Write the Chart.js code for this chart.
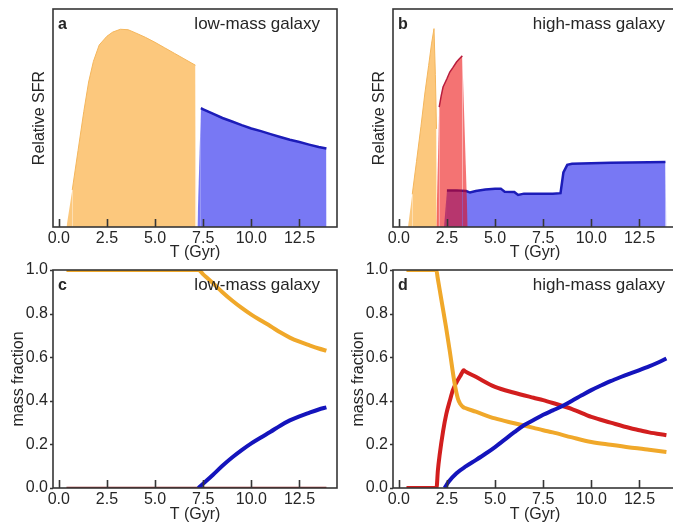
<!DOCTYPE html>
<html lang="en">
<head>
<meta charset="UTF-8">
<title>Star formation history and stellar mass fractions</title>
<script src="https://cdn.jsdelivr.net/npm/chart.js"></script>
<style>
  html, body { margin: 0; padding: 0; background: #fff; overflow: hidden; width: 673px; height: 526px; }
  canvas { position: absolute; }
</style>
</head>
<body>
<canvas id="panelA" width="340" height="262" style="left:0;top:0"></canvas>
<canvas id="panelB" width="345" height="262" style="left:340px;top:0"></canvas>
<canvas id="panelC" width="340" height="276" style="left:0;top:250px"></canvas>
<canvas id="panelD" width="345" height="276" style="left:340px;top:250px"></canvas>

<script>
// axis setup shared by all four panels
const X_MIN = -0.3, X_MAX = 14.45;
const timeTicks = [0, 2.5, 5, 7.5, 10, 12.5];
const fracTicks = [0, 0.2, 0.4, 0.6, 0.8, 1.0];

// (a) low-mass galaxy, relative SFR
const lowSfrOldT   = [0.4, 0.7, 1.0, 1.3, 1.55, 1.8, 2.1, 2.5, 2.8, 3.2, 3.6, 4.0, 4.5, 5.0, 5.5, 6.0, 6.5, 6.9, 7.1, 7.15];
const lowSfrOld    = [0, 0.17, 0.35, 0.53, 0.665, 0.76, 0.835, 0.875, 0.894, 0.907, 0.905, 0.89, 0.87, 0.847, 0.822, 0.797, 0.772, 0.752, 0.742, 0];
const lowSfrYoungT = [7.2, 7.38, 7.5, 8.0, 8.5, 9.0, 9.5, 10.0, 10.5, 11.0, 11.5, 12.0, 12.5, 13.0, 13.5, 13.9, 13.92];
const lowSfrYoung  = [0, 0.545, 0.54, 0.52, 0.5, 0.484, 0.467, 0.452, 0.44, 0.426, 0.413, 0.4, 0.39, 0.378, 0.367, 0.36, 0];

// (b) high-mass galaxy, relative SFR
const highSfrOldT   = [0.48, 0.7, 0.92, 1.15, 1.35, 1.55, 1.7, 1.83, 1.9, 1.96, 2.02];
const highSfrOld    = [0, 0.15, 0.3, 0.46, 0.61, 0.74, 0.84, 0.91, 0.7, 0.45, 0];
const highSfrMidT   = [1.95, 2.1, 2.2, 2.3, 2.5, 2.65, 2.8, 3.0, 3.15, 3.3, 3.58];
const highSfrMid    = [0, 0.55, 0.6, 0.642, 0.68, 0.711, 0.73, 0.757, 0.772, 0.785, 0];
const highSfrYoungT = [2.35, 2.5, 3.0, 3.5, 3.7, 4.0, 4.5, 5.0, 5.3, 5.5, 6.0, 6.2, 6.5, 7.0, 7.5, 8.0, 8.4, 8.55, 8.75, 9.0, 10.0, 11.0, 12.0, 13.0, 13.85, 13.9];
const highSfrYoung  = [0, 0.168, 0.168, 0.165, 0.158, 0.165, 0.172, 0.176, 0.176, 0.162, 0.161, 0.147, 0.153, 0.153, 0.153, 0.152, 0.155, 0.25, 0.285, 0.29, 0.292, 0.295, 0.296, 0.297, 0.298, 0];

// (c) low-mass galaxy, mass fractions
const lowOldT   = [0.4, 7.25, 7.5, 8.0, 8.5, 9.0, 9.5, 10.0, 10.5, 11.0, 11.5, 12.0, 12.5, 13.0, 13.5, 13.9];
const lowOld    = [1, 1, 0.98, 0.94, 0.898, 0.86, 0.826, 0.795, 0.768, 0.742, 0.714, 0.69, 0.671, 0.655, 0.64, 0.63];
const lowYoungT = [7.25, 7.5, 8.0, 8.5, 9.0, 9.5, 10.0, 10.5, 11.0, 11.5, 12.0, 12.5, 13.0, 13.5, 13.9];
const lowYoung  = [0, 0.02, 0.06, 0.102, 0.14, 0.174, 0.205, 0.232, 0.258, 0.286, 0.31, 0.329, 0.345, 0.36, 0.37];
const lowMidT   = [0.4, 13.9];
const lowMid    = [0, 0];

// (d) high-mass galaxy, mass fractions
const highOldT   = [0.4, 1.95, 2.02, 2.2, 2.45, 2.64, 2.9, 3.07, 3.2, 3.33, 3.45, 4.0, 5.0, 6.0, 7.0, 7.5, 8.0, 9.0, 10.0, 11.0, 12.0, 12.5, 13.0, 13.9];
const highOld    = [1, 1, 0.964, 0.87, 0.74, 0.633, 0.48, 0.41, 0.385, 0.372, 0.367, 0.35, 0.319, 0.297, 0.276, 0.265, 0.255, 0.232, 0.211, 0.198, 0.186, 0.181, 0.175, 0.165];
const highMidT   = [0.4, 1.96, 2.03, 2.12, 2.3, 2.47, 2.65, 2.81, 3.0, 3.2, 3.3, 3.37, 3.45, 4.0, 5.0, 6.0, 7.0, 7.5, 8.0, 9.0, 10.0, 11.0, 12.0, 12.5, 13.0, 13.9];
const highMid    = [0, 0, 0.08, 0.15, 0.26, 0.34, 0.4, 0.449, 0.485, 0.515, 0.531, 0.54, 0.535, 0.51, 0.464, 0.437, 0.414, 0.403, 0.39, 0.362, 0.326, 0.3, 0.275, 0.265, 0.255, 0.242];
const highYoungT = [2.38, 2.6, 3.0, 3.5, 4.0, 4.5, 5.0, 5.5, 6.0, 6.5, 7.0, 7.5, 8.0, 8.5, 9.0, 9.5, 10.0, 10.5, 11.0, 11.5, 12.0, 12.5, 13.0, 13.5, 13.9];
const highYoung  = [0, 0.03, 0.068, 0.1, 0.128, 0.157, 0.188, 0.222, 0.256, 0.288, 0.312, 0.336, 0.356, 0.376, 0.4, 0.425, 0.449, 0.47, 0.49, 0.508, 0.525, 0.541, 0.558, 0.577, 0.594];

const FONT = '"Liberation Sans", Arial, sans-serif';
const INK = '#262626';

Chart.defaults.font.family = FONT;
Chart.defaults.font.size = 16;
Chart.defaults.color = INK;

function pts(t, v) {
    return t.map((x, i) => ({ x: x, y: v[i] }));
}

// filled SFR block; the outline is only drawn along the top, not the vertical edges
function area(t, v, fill, edge, edgeWidth) {
    return {
        data: pts(t, v),
        fill: 'origin',
        backgroundColor: fill,
        borderColor: edge,
        borderWidth: edgeWidth,
        pointRadius: 0,
        segment: {
            borderColor: ctx => (ctx.p0.parsed.y === 0 || ctx.p1.parsed.y === 0) ? 'transparent' : undefined
        }
    };
}

function curve(t, v, color, width) {
    return {
        data: pts(t, v),
        borderColor: color,
        borderWidth: width,
        pointRadius: 0,
        fill: false,
        cubicInterpolationMode: 'monotone',
        borderJoinStyle: 'round'
    };
}

// box frame, inward x ticks, panel letter and galaxy label
const framePlugin = {
    id: 'frame',
    afterDatasetsDraw(chart, args, opts) {
        const { ctx, chartArea: a, scales: { x, y } } = chart;
        ctx.save();
        ctx.strokeStyle = '#363636';
        ctx.lineWidth = 1.6;
        ctx.strokeRect(a.left, a.top, a.right - a.left, a.bottom - a.top);

        ctx.beginPath();
        x.ticks.forEach(t => {
            const px = Math.round(x.getPixelForValue(t.value)) + 0.5;
            ctx.moveTo(px, a.bottom);
            ctx.lineTo(px, a.bottom - 8);
        });
        if (opts.yTicks) {
            y.ticks.forEach(t => {
                const py = Math.round(y.getPixelForValue(t.value)) + 0.5;
                ctx.moveTo(a.left, py);
                ctx.lineTo(a.left - 3, py);
            });
        }
        ctx.stroke();

        ctx.fillStyle = INK;
        ctx.textBaseline = 'alphabetic';
        ctx.font = 'bold 16px ' + FONT;
        ctx.textAlign = 'left';
        ctx.fillText(opts.letter, a.left + 5, a.top + 20);
        ctx.font = '17px ' + FONT;
        ctx.textAlign = 'right';
        ctx.fillText(opts.label, a.right - opts.labelInset, a.top + 20);
        ctx.restore();
    }
};

function buildPanel(id, datasets, p) {
    return new Chart(document.getElementById(id), {
        type: 'line',
        data: { datasets: datasets },
        plugins: [framePlugin],
        options: {
            responsive: false,
            animation: false,
            events: [],
            layout: { padding: { top: p.padTop, right: p.padRight, left: 0, bottom: 0 } },
            plugins: {
                legend: { display: false },
                tooltip: { enabled: false },
                frame: { letter: p.letter, label: p.label, labelInset: p.labelInset, yTicks: p.fraction }
            },
            scales: {
                x: {
                    type: 'linear',
                    min: X_MIN,
                    max: X_MAX,
                    grid: { display: false, drawTicks: false },
                    border: { display: false },
                    afterBuildTicks: s => { s.ticks = timeTicks.map(v => ({ value: v })); },
                    afterFit: s => { s.height = p.xHeight; },
                    ticks: { padding: 2, maxRotation: 0, autoSkip: false, callback: v => v.toFixed(1) },
                    title: { display: true, text: 'T (Gyr)', padding: { top: 0, bottom: p.xTitlePad } }
                },
                y: {
                    type: 'linear',
                    min: 0,
                    max: 1,
                    grid: { display: false, drawTicks: false },
                    border: { display: false },
                    afterBuildTicks: s => { if (p.fraction) s.ticks = fracTicks.map(v => ({ value: v })); },
                    afterFit: s => { s.width = 53; },
                    ticks: { display: p.fraction, padding: 5, autoSkip: false, callback: v => v.toFixed(1) },
                    title: { display: true, text: p.yTitle, padding: { top: p.yTitlePad, bottom: 0 } }
                }
            }
        }
    });
}

const ORANGE_FILL = '#fcc87d';
const ORANGE_EDGE = '#f4b65c';
const BLUE_FILL = 'rgba(0, 0, 235, 0.53)';
const BLUE_EDGE = '#1c1cb8';
const RED_FILL = 'rgba(235, 0, 0, 0.55)';
const RED_EDGE = '#b81c3c';

const ORANGE_LINE = '#f0a82a';
const BLUE_LINE = '#1414bc';
const RED_LINE = '#d21e1e';

buildPanel('panelA', [
    area(lowSfrYoungT, lowSfrYoung, BLUE_FILL, BLUE_EDGE, 2.5),
    area(lowSfrOldT, lowSfrOld, ORANGE_FILL, ORANGE_EDGE, 1)
], { letter: 'a', label: 'low-mass galaxy', labelInset: 17, yTitle: 'Relative SFR', fraction: false,
     padTop: 9, padRight: 3, xHeight: 35, xTitlePad: 0, yTitlePad: 30 });

buildPanel('panelB', [
    area(highSfrMidT, highSfrMid, RED_FILL, RED_EDGE, 1.5),
    area(highSfrYoungT, highSfrYoung, BLUE_FILL, BLUE_EDGE, 2.5),
    area(highSfrOldT, highSfrOld, ORANGE_FILL, ORANGE_EDGE, 1)
], { letter: 'b', label: 'high-mass galaxy', labelInset: 12, yTitle: 'Relative SFR', fraction: false,
     padTop: 9, padRight: 8, xHeight: 35, xTitlePad: 0, yTitlePad: 30 });

buildPanel('panelC', [
    curve(lowOldT, lowOld, ORANGE_LINE, 4),
    curve(lowYoungT, lowYoung, BLUE_LINE, 4),
    curve(lowMidT, lowMid, '#962020', 2.5)
], { letter: 'c', label: 'low-mass galaxy', labelInset: 17, yTitle: 'mass fraction', fraction: true,
     padTop: 20, padRight: 3, xHeight: 38, xTitlePad: 2, yTitlePad: 9 });

buildPanel('panelD', [
    curve(highYoungT, highYoung, BLUE_LINE, 4),
    curve(highOldT, highOld, ORANGE_LINE, 4),
    curve(highMidT, highMid, RED_LINE, 4)
], { letter: 'd', label: 'high-mass galaxy', labelInset: 12, yTitle: 'mass fraction', fraction: true,
     padTop: 20, padRight: 8, xHeight: 38, xTitlePad: 2, yTitlePad: 9 });
</script>
</body>
</html>
